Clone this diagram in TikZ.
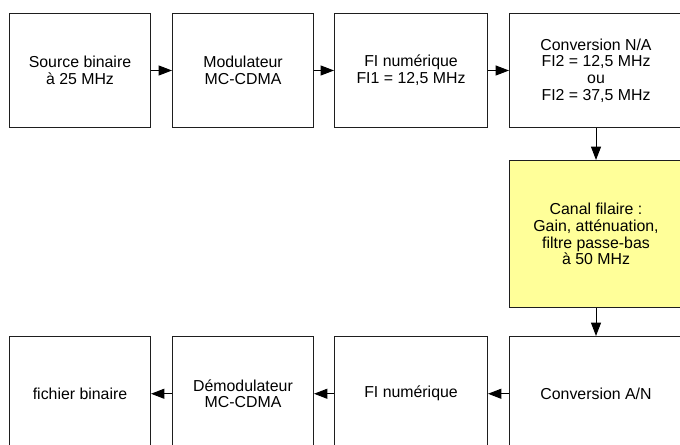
\documentclass[tikz,border=0pt]{standalone}
\usepackage{fontspec}
\setmainfont{Liberation Sans}
\usetikzlibrary{arrows.meta}
\definecolor{canalyellow}{RGB}{255,255,153}
\definecolor{linegray}{RGB}{30,30,30}
\tikzset{
  blk/.style 2 args={draw=linegray, line width=0.8pt, rectangle, inner sep=0pt,
    align=center, minimum width=#1*0.75pt, minimum height=#2*0.75pt,
    font=\fontsize{11.9}{12.6}\selectfont},
  arr/.style={draw=black, line width=0.75pt, -{Triangle[length=10pt,width=7.5pt]}, shorten >=0pt}
}
\begin{document}
\begin{tikzpicture}[x=0.75pt,y=-0.75pt]
\path[use as bounding box, clip] (0,0) rectangle (680,445);
\fill[white] (0,0) rectangle (680,445);
% top row
\node[blk={141}{114}] (b1) at (80,70.5) {Source binaire\\à 25 MHz};
\node[blk={141}{114}] (b2) at (243,70.5) {Modulateur\\MC-CDMA};
\node[blk={153}{114}] (b3) at (411,70.5) {FI numérique\\FI1 = 12,5 MHz};
\node[blk={173}{114}] (b4) at (596,70.5) {Conversion N/A\\FI2 = 12,5 MHz\\ou\\FI2 = 37,5 MHz};
% channel
\node[blk={173}{147}, fill=canalyellow] (canal) at (596,234) {Canal filaire :\\Gain, atténuation,\\filtre passe-bas\\à 50 MHz};
% bottom row
\node[blk={173}{114.5}] (c4) at (596,393.75) {Conversion A/N};
\node[blk={153}{114.5}] (c3) at (411,393.75) {FI numérique};
\node[blk={141}{114.5}] (c2) at (243,393.75) {Démodulateur\\MC-CDMA};
\node[blk={141}{114.5}] (c1) at (80,393.75) {fichier binaire};
% connectors
\draw[arr] (b1.east) -- (b2.west);
\draw[arr] (b2.east) -- (b3.west);
\draw[arr] (b3.east) -- (b4.west);
\draw[arr] (b4.south) -- (canal.north);
\draw[arr] (canal.south) -- (c4.north);
\draw[arr] (c4.west) -- (c3.east);
\draw[arr] (c3.west) -- (c2.east);
\draw[arr] (c2.west) -- (c1.east);
\end{tikzpicture}
\end{document}
